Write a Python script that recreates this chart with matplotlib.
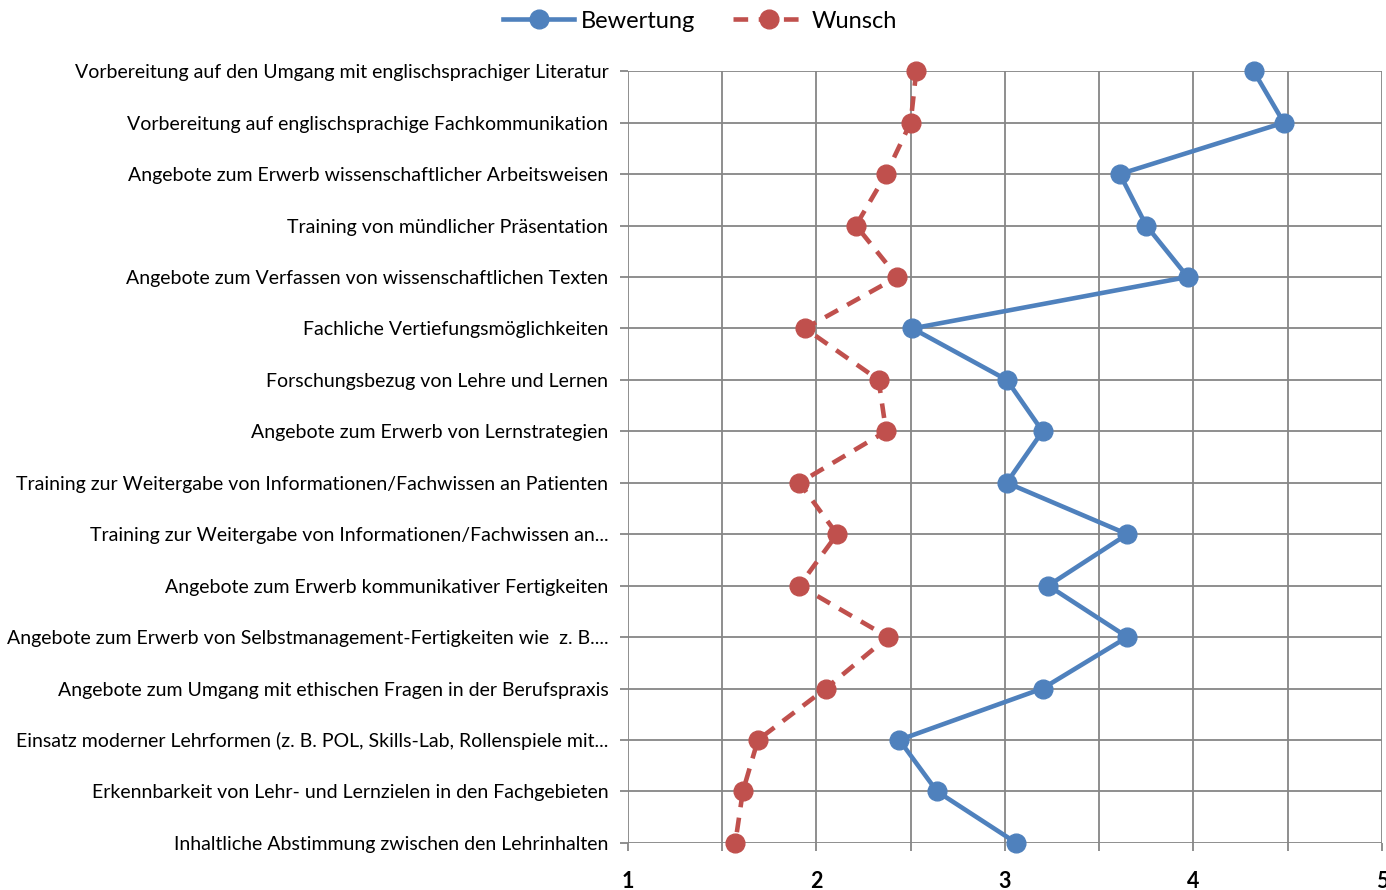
import numpy as np
import matplotlib.pyplot as plt
from matplotlib.lines import Line2D

# Kategorien (von oben nach unten)
kategorien = [
    "Vorbereitung auf den Umgang mit englischsprachiger Literatur",
    "Vorbereitung auf englischsprachige Fachkommunikation",
    "Angebote zum Erwerb wissenschaftlicher Arbeitsweisen",
    "Training von mündlicher Präsentation",
    "Angebote zum Verfassen von wissenschaftlichen Texten",
    "Fachliche Vertiefungsmöglichkeiten",
    "Forschungsbezug von Lehre und Lernen",
    "Angebote zum Erwerb von Lernstrategien",
    "Training zur Weitergabe von Informationen/Fachwissen an Patienten",
    "Training zur Weitergabe von Informationen/Fachwissen an...",
    "Angebote zum Erwerb kommunikativer Fertigkeiten",
    "Angebote zum Erwerb von Selbstmanagement-Fertigkeiten wie  z. B....",
    "Angebote zum Umgang mit ethischen Fragen in der Berufspraxis",
    "Einsatz moderner Lehrformen (z. B. POL, Skills-Lab, Rollenspiele mit...",
    "Erkennbarkeit von Lehr- und Lernzielen in den Fachgebieten",
    "Inhaltliche Abstimmung zwischen den Lehrinhalten",
]
bewertung = [4.32, 4.48, 3.61, 3.75, 3.97, 2.51, 3.01, 3.20,
             3.01, 3.65, 3.23, 3.65, 3.20, 2.44, 2.64, 3.06]
wunsch = [2.53, 2.50, 2.37, 2.21, 2.43, 1.94, 2.33, 2.37,
          1.91, 2.11, 1.91, 2.38, 2.05, 1.69, 1.61, 1.57]
x_ticks = [1, 1.5, 2, 2.5, 3, 3.5, 4, 4.5, 5]

blau = '#4F81BD'
rot = '#C0504D'
grau = '#868686'

plt.rcParams['font.family'] = ['Lato', 'DejaVu Sans']

fig = plt.figure(figsize=(13.86, 8.9), dpi=100)
ax = fig.add_axes([0.453, 0.053, 0.544, 0.867])

y = np.arange(len(kategorien))
ax.plot(bewertung, y, color=blau, lw=3.3, marker='o', ms=13.5,
        clip_on=False, zorder=3, label='Bewertung')
ax.plot(wunsch, y, color=rot, lw=3.3, ls=(0, (3.2, 2.3)), marker='o', ms=13.5,
        clip_on=False, zorder=3, label='Wunsch')

ax.set_xlim(1, 5)
ax.set_ylim(len(kategorien) - 1, 0)
ax.set_xticks(x_ticks)
ax.set_xticklabels([str(int(t)) if t == int(t) else '' for t in x_ticks],
                   fontsize=15.5, fontweight='bold')
ax.set_yticks(y)
ax.set_yticklabels(kategorien, fontsize=14)
ax.grid(True, color=grau, lw=1.3)
ax.set_axisbelow(True)
ax.tick_params(axis='both', color=grau, width=1.3, length=6)
ax.tick_params(axis='x', pad=14)
ax.tick_params(axis='y', pad=8)
for s in ax.spines.values():
    s.set_visible(False)

handles = [Line2D([], [], color=blau, lw=3.3, marker='o', ms=13.5),
           Line2D([], [], color=rot, lw=3.3, ls=(0, (3.2, 2.3)), marker='o', ms=13.5)]
fig.legend(handles, ['Bewertung', 'Wunsch'], loc='upper center',
           bbox_to_anchor=(0.505, 1.012), ncol=2, frameon=False, fontsize=17,
           handlelength=3.0, columnspacing=1.6, handletextpad=0.3)

fig.savefig('out.png', dpi=100)
